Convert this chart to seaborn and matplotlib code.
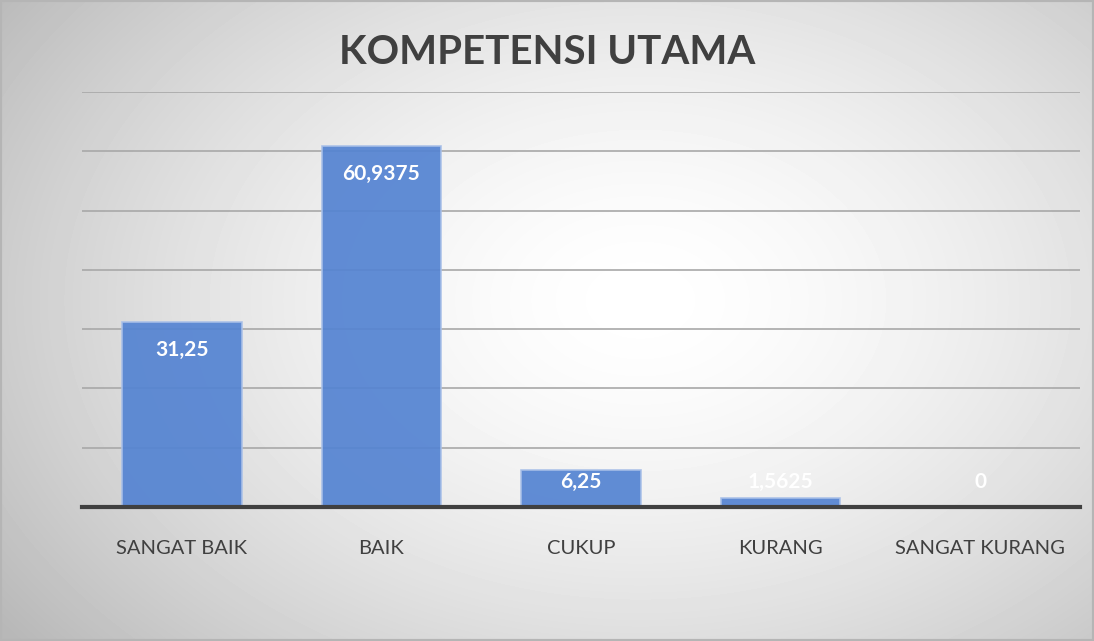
import numpy as np
import pandas as pd
import matplotlib
matplotlib.use("Agg")
import matplotlib.pyplot as plt
import seaborn as sns

categories = ["SANGAT BAIK", "BAIK", "CUKUP", "KURANG", "SANGAT KURANG"]
values = [31.25, 60.9375, 6.25, 1.5625, 0]
value_labels = ["31,25", "60,9375", "6,25", "1,5625", "0"]

df = pd.DataFrame({"kategori": categories, "nilai": values})

sns.set_theme(style="white")
plt.rcParams['font.family'] = ['Lato', 'DejaVu Sans']

fig = plt.figure(figsize=(10.94, 6.41), dpi=100)

# radial grey background like the office chart style
bg = fig.add_axes([0, 0, 1, 1], zorder=-10)
yy, xx = np.mgrid[0:641, 0:1094]
d = np.sqrt(((xx - 640) / 720.0) ** 2 + ((yy - 300) / 500.0) ** 2)
shade = 1.0 - 0.24 * np.clip(d, 0, 1.1) ** 1.6
bg.imshow(shade, cmap="gray", vmin=0, vmax=1, aspect="auto", interpolation="bilinear")
bg.set_axis_off()
fig.patches.append(plt.Rectangle((0, 0), 1, 1, transform=fig.transFigure,
                                 fill=False, edgecolor="#b5b5b5", linewidth=3, zorder=5))

ax = fig.add_axes([0.075, 0.209, 0.912, 0.6475])
ax.patch.set_alpha(0)

sns.barplot(data=df, x="kategori", y="nilai", color="#5584d2", width=0.6, saturation=1,
            ax=ax, alpha=0.93, edgecolor="#a9c0e8", linewidth=1.2, zorder=2)

ax.set_ylim(0, 70)
ax.set_xlim(-0.5, 4.5)
ax.set_yticks(np.arange(0, 71, 10))
ax.yaxis.grid(True, color="#a8a8a8", linewidth=1.2, zorder=1)
ax.set_axisbelow(True)
ax.tick_params(axis="y", left=False, labelleft=False)
ax.tick_params(axis="x", bottom=False, labelsize=14.5, labelcolor="#404040", pad=18)
ax.set_xlabel("")
ax.set_ylabel("")
for s in ["top", "right", "left"]:
    ax.spines[s].set_visible(False)
ax.spines["bottom"].set_color("#404040")
ax.spines["bottom"].set_linewidth(3)
ax.spines["bottom"].set_zorder(4)

for i, (v, lab) in enumerate(zip(values, value_labels)):
    ax.text(i, max(v - 4.7, 4.2), lab, ha="center", va="center",
            color="white", fontsize=15, fontweight="bold", zorder=5)

fig.text(0.5, 0.918, "KOMPETENSI UTAMA", ha="center", va="center",
         fontsize=29, fontweight="bold", color="#404040")

fig.savefig("out.png", dpi=100)
